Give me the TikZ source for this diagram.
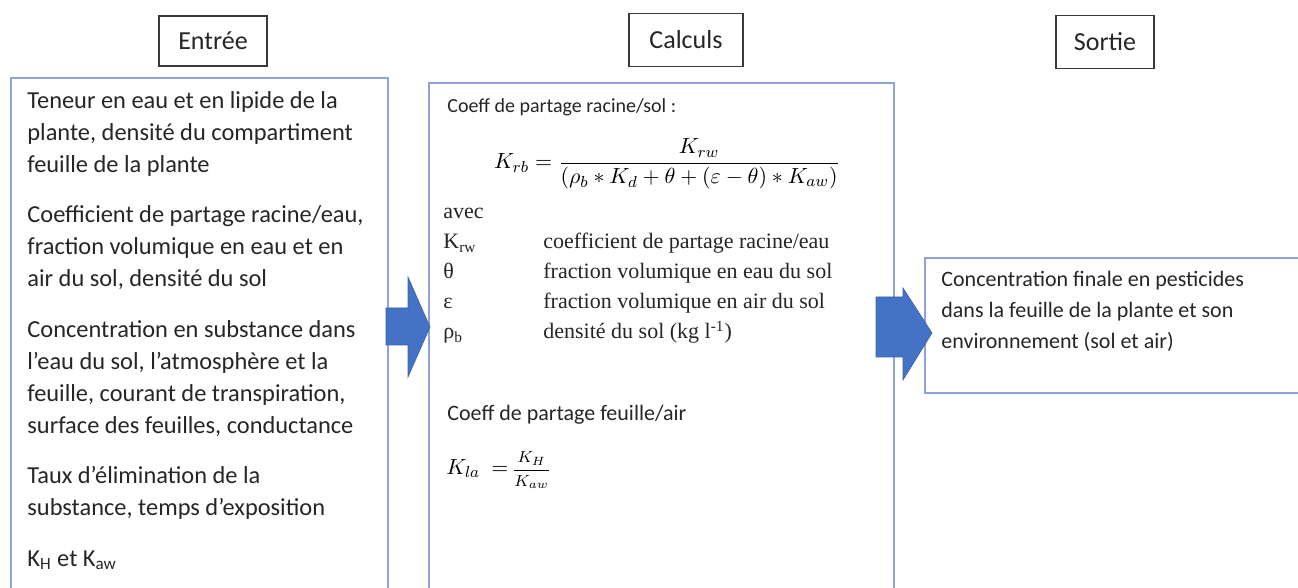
\documentclass[tikz,border=0pt]{standalone}
\usepackage{fontspec}
\setmainfont{Carlito}
\newfontfamily\timesfont{Liberation Serif}
\usetikzlibrary{positioning}
\definecolor{PanelLine}{HTML}{8EA3D9}
\definecolor{ArrowBlue}{HTML}{4472C4}
\definecolor{LabLine}{HTML}{3A3A3A}
\definecolor{InkDark}{HTML}{262626}

\begin{document}
\begin{tikzpicture}[x=0.5pt, y=-0.5pt,
  lab/.style={draw=LabLine, line width=0.9pt, fill=white, inner sep=0pt,
    font=\fontsize{13}{15}\selectfont, text=InkDark},
  panel/.style={draw=PanelLine, line width=0.8pt, fill=white, inner sep=0pt, anchor=north west},
  txt/.style={anchor=north west, inner sep=0pt, align=left, text=InkDark},
  blockarrow/.style={fill=ArrowBlue, draw=ArrowBlue!85!black, line width=0.3pt}]
  \useasboundingbox (0,0) rectangle (1298,588);
  \clip (0,0) rectangle (1298,588);
  \fill[white] (0,0) rectangle (1298,588);
  \node[panel, minimum width=188.5pt, minimum height=262pt] (inbox) at (10,77) {};
  \node[panel, minimum width=232.5pt, minimum height=260pt] (calcbox) at (428,82) {};
  \node[panel, minimum width=195pt, minimum height=67.5pt] (outbox) at (924,257) {};
  \node[lab, minimum width=54pt, minimum height=25pt] (entree) at (213,41) {Entrée};
  \node[lab, minimum width=57pt, minimum height=26.5pt] (calculs) at (686,40) {Calculs};
  \node[lab, minimum width=49pt, minimum height=26.5pt] (sortie) at (1105,42) {Sortie};
  \path[blockarrow] (386,308) -- (408,308) -- (408,277) -- (430,327)
    -- (408,377) -- (408,345) -- (386,345) -- cycle;
  \path[blockarrow] (876,297) -- (903,297) -- (903,288) -- (932,333)
    -- (903,380) -- (903,357) -- (876,357) -- cycle;
  \node[txt, font=\fontsize{12.2}{16}\selectfont] (intext) at (27,91) {%
    Teneur en eau et en lipide de la\\
    plante, densité du compartiment\\
    feuille de la plante\\[9.25pt]
    Coefficient de partage racine/eau,\\
    fraction volumique en eau et en\\
    air du sol, densité du sol\\[9.25pt]
    Concentration en substance dans\\
    l’eau du sol, l’atmosphère et la\\
    feuille, courant de transpiration,\\
    surface des feuilles, conductance\\[9.25pt]
    Taux d’élimination de la\\
    substance, temps d’exposition\\[9.25pt]
    K\textsubscript{H} et K\textsubscript{aw}};
  \node[txt, font=\fontsize{10}{12}\selectfont] (racsol) at (447,98) {Coeff de partage racine/sol :};
  \node[inner sep=0pt, font=\fontsize{11}{13}\selectfont] (krb) at (667,164)
    {$\displaystyle K_{rb} = \frac{K_{rw}}{(\rho_b * K_d + \theta + (\varepsilon - \theta) * K_{aw})}$};
  \node[anchor=base west, inner sep=0pt, text=InkDark, font=\timesfont\fontsize{11}{15}\selectfont] (legend) at (443,219) {%
    \begin{tabular}[t]{@{}p{50pt}@{}l@{}}
      avec & \\
      K\textsubscript{rw} & coefficient de partage racine/eau\\
      θ & fraction volumique en eau du sol\\
      ε & fraction volumique en air du sol\\
      ρ\textsubscript{b} & densité du sol (kg l\textsuperscript{-1})
    \end{tabular}};
  \node[txt, font=\fontsize{11}{13}\selectfont] (feuair) at (447,405) {Coeff de partage feuille/air};
  \node[anchor=west, inner sep=0pt, font=\fontsize{11}{13}\selectfont] (kla) at (446,470)
    {$K_{la}\ =$\,{\fontsize{8.5}{10}\selectfont$\displaystyle\frac{K_H}{K_{aw}}$}};
  \node[txt, font=\fontsize{11}{15.5}\selectfont] (outtext) at (941,271) {%
    Concentration finale en pesticides\\
    dans la feuille de la plante et son\\
    environnement (sol et air)};
\end{tikzpicture}
\end{document}
